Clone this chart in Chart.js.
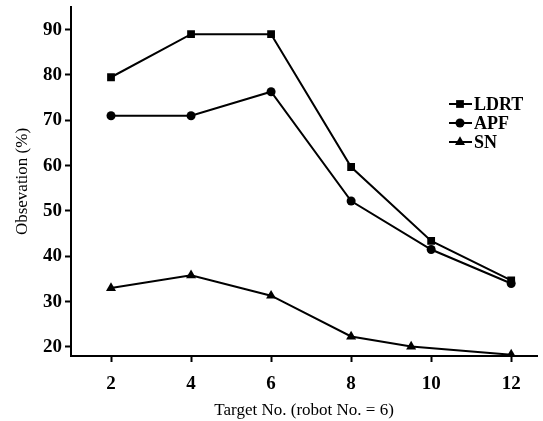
<!DOCTYPE html>
<html>
<head>
<meta charset="utf-8">
<script src="https://cdn.jsdelivr.net/npm/chart.js@4.4.1/dist/chart.umd.min.js"></script>
<style>
  html, body { margin: 0; padding: 0; background: #fff; }
  #wrap { width: 543px; height: 421px; }
</style>
</head>
<body>
<div id="wrap"><canvas id="chart"></canvas></div>
<script>
// values
const targetNo = [2, 4, 6, 8, 10, 12];
const snTargetNo = [2, 4, 6, 8, 9.5, 12];
const ldrt = [79.5, 89, 89, 59.7, 43.4, 34.7];
const apf = [71, 71, 76.3, 52.2, 41.5, 34];
const sn = [33, 35.8, 31.3, 22.3, 20.1, 18.3];
const xTicks = [2, 4, 6, 8, 10, 12];
const yTicks = [20, 30, 40, 50, 60, 70, 80, 90];

const serif = '"Liberation Serif", "Times New Roman", serif';

function pts(xs, ys) {
    return xs.map((x, i) => ({ x: x, y: ys[i] }));
}

function series(label, xs, ys, style, radius) {
    return {
        label: label,
        data: pts(xs, ys),
        borderColor: '#000',
        backgroundColor: '#000',
        borderWidth: 2,
        pointStyle: style,
        pointRadius: radius,
        pointBackgroundColor: '#000',
        pointBorderColor: '#000',
        pointBorderWidth: 0,
        tension: 0
    };
}

// legend drawn inside the plot, line through marker like the original
const insideLegend = {
    id: 'insideLegend',
    afterDraw(chart) {
        const ctx = chart.ctx;
        const x0 = 449, x1 = 472, xm = 460;
        const rows = [104, 123, 142];
        ctx.save();
        chart.data.datasets.forEach((ds, i) => {
            const y = rows[i];
            ctx.strokeStyle = '#000';
            ctx.lineWidth = 2;
            ctx.beginPath();
            ctx.moveTo(x0, y);
            ctx.lineTo(x1, y);
            ctx.stroke();
            ctx.fillStyle = '#000';
            Chart.helpers.drawPoint(ctx, {
                pointStyle: ds.pointStyle,
                radius: ds.pointRadius,
                borderWidth: 0
            }, xm, y);
            ctx.font = 'bold 18px ' + serif;
            ctx.textBaseline = 'middle';
            ctx.textAlign = 'left';
            ctx.fillText(ds.label, x1 + 2, y + 1);
        });
        ctx.restore();
    }
};

new Chart(document.getElementById('chart'), {
    type: 'line',
    data: {
        datasets: [
            series('LDRT', targetNo, ldrt, 'rect', 5.5),
            series('APF', targetNo, apf, 'circle', 4.5),
            series('SN', snTargetNo, sn, 'triangle', 5.8)
        ]
    },
    options: {
        responsive: true,
        maintainAspectRatio: false,
        animation: false,
        layout: { padding: { top: 7, right: 0, left: 0, bottom: 0 } },
        plugins: {
            legend: { display: false },
            tooltip: { enabled: false }
        },
        scales: {
            x: {
                type: 'linear',
                min: 1,
                max: 12.65,
                afterBuildTicks: (s) => { s.ticks = xTicks.map(v => ({ value: v })); },
                afterFit: (s) => { s.height = 65; s.paddingLeft = 0; s.paddingRight = 0; },
                grid: { drawOnChartArea: false, drawTicks: true, tickLength: 6, tickWidth: 2, color: '#000' },
                border: { display: true, color: '#000', width: 2 },
                ticks: { color: '#000', padding: 11, font: { family: serif, size: 19, weight: 'bold' } },
                title: {
                    display: true,
                    text: 'Target No. (robot No. = 6)',
                    color: '#000',
                    padding: { top: 0, bottom: 0 },
                    font: { family: serif, size: 17 }
                }
            },
            y: {
                min: 18,
                max: 95,
                afterBuildTicks: (s) => { s.ticks = yTicks.map(v => ({ value: v })); },
                afterFit: (s) => { s.width = 71; s.paddingTop = 0; s.paddingBottom = 0; },
                grid: { drawOnChartArea: false, drawTicks: true, tickLength: 6, tickWidth: 2, color: '#000' },
                border: { display: true, color: '#000', width: 2 },
                ticks: { color: '#000', padding: 3, font: { family: serif, size: 19, weight: 'bold' } },
                title: {
                    display: true,
                    text: 'Obsevation (%)',
                    color: '#000',
                    padding: { top: 12, bottom: 0 },
                    font: { family: serif, size: 17 }
                }
            }
        }
    },
    plugins: [insideLegend]
});
</script>
</body>
</html>
